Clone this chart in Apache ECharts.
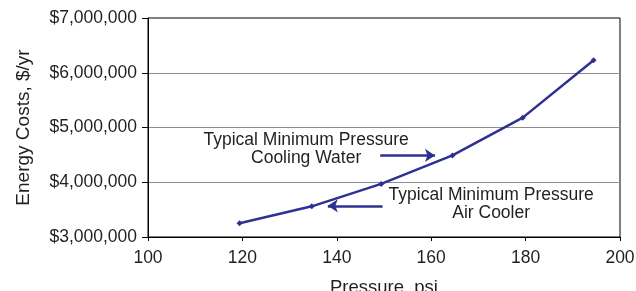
<!DOCTYPE html>
<html>
<head>
<meta charset="utf-8">
<script src="https://cdn.jsdelivr.net/npm/echarts@6/dist/echarts.min.js"></script>
<style>
  html, body { margin: 0; padding: 0; background: #fff; }
  #chart { width: 636px; height: 291px; }
</style>
</head>
<body>
<div id="chart"></div>
<script>
const pressure = [119.4, 134.7, 149.4, 164.5, 179.4, 194.4];
const costs = [3250000, 3560000, 3970000, 4490000, 5180000, 6230000];

const noteTexts = ["Typical Minimum Pressure\nCooling Water", "Typical Minimum Pressure\nAir Cooler"];
const notePositions = [[133.5, 4600000], [172.7, 3600000]];
const arrowStarts = [[149.2, 4490000], [149.7, 3570000]];
const arrowEnds = [[160.8, 4490000], [138.1, 3570000]];

const font = "'Liberation Sans', Arial, Helvetica, sans-serif";
const ink = "#231f20";
const blue = "#2e3192";

const fmtMoney = (v) => "$" + String(Math.round(v)).replace(/\B(?=(\d{3})+(?!\d))/g, ",");

const chart = echarts.init(document.getElementById("chart"), null, { renderer: "canvas" });

chart.setOption({
  animation: false,
  backgroundColor: "#fff",
  grid: {
    left: 148,
    right: 16,
    top: 18,
    bottom: 54,
    outerBoundsMode: "none",
    containLabel: false,
    show: true,
    borderColor: "#000",
    borderWidth: 1,
    backgroundColor: "transparent",
  },
  xAxis: {
    type: "value",
    min: 100,
    max: 200,
    interval: 20,
    name: "Pressure, psi",
    nameLocation: "middle",
    nameGap: 41,
    nameTextStyle: { color: ink, fontFamily: font, fontSize: 18.5 },
    axisLine: { lineStyle: { color: "#000", width: 1 } },
    axisTick: { show: true, length: 4, lineStyle: { color: "#000" } },
    axisLabel: { color: ink, fontFamily: font, fontSize: 17.5, margin: 12 },
    splitLine: { show: false },
  },
  yAxis: {
    type: "value",
    min: 3000000,
    max: 7000000,
    interval: 1000000,
    name: "Energy Costs, $/yr",
    nameLocation: "middle",
    nameGap: 115,
    nameTextStyle: { color: ink, fontFamily: font, fontSize: 19 },
    axisLine: { show: true, lineStyle: { color: "#000", width: 1 } },
    axisTick: { show: true, length: 6, lineStyle: { color: "#000" } },
    axisLabel: { color: ink, fontFamily: font, fontSize: 17.5, margin: 11, formatter: fmtMoney },
    splitLine: { show: true, showMinLine: false, showMaxLine: false, lineStyle: { color: "#8c8c8c", width: 1 } },
  },
  series: [
    {
      type: "line",
      data: pressure.map((p, i) => [p, costs[i]]),
      symbol: "diamond",
      symbolSize: 6,
      showSymbol: true,
      lineStyle: { color: blue, width: 2.5 },
      itemStyle: { color: blue },
      z: 3,
    },
    {
      type: "line",
      data: [],
      silent: true,
      markLine: {
        silent: true,
        symbol: ["none", "arrow"],
        symbolSize: 10,
        label: { show: false },
        lineStyle: { color: blue, width: 2.5, type: "solid" },
        data: arrowStarts.map((s, i) => [{ coord: s }, { coord: arrowEnds[i] }]),
      },
      markPoint: {
        silent: true,
        symbol: "circle",
        symbolSize: 0,
        label: {
          show: true,
          position: "inside",
          color: ink,
          fontFamily: font,
          fontSize: 17.5,
          lineHeight: 18,
          align: "center",
          formatter: (p) => p.name,
        },
        data: noteTexts.map((t, i) => ({ name: t, coord: notePositions[i] })),
      },
    },
  ],
});
</script>
</body>
</html>
